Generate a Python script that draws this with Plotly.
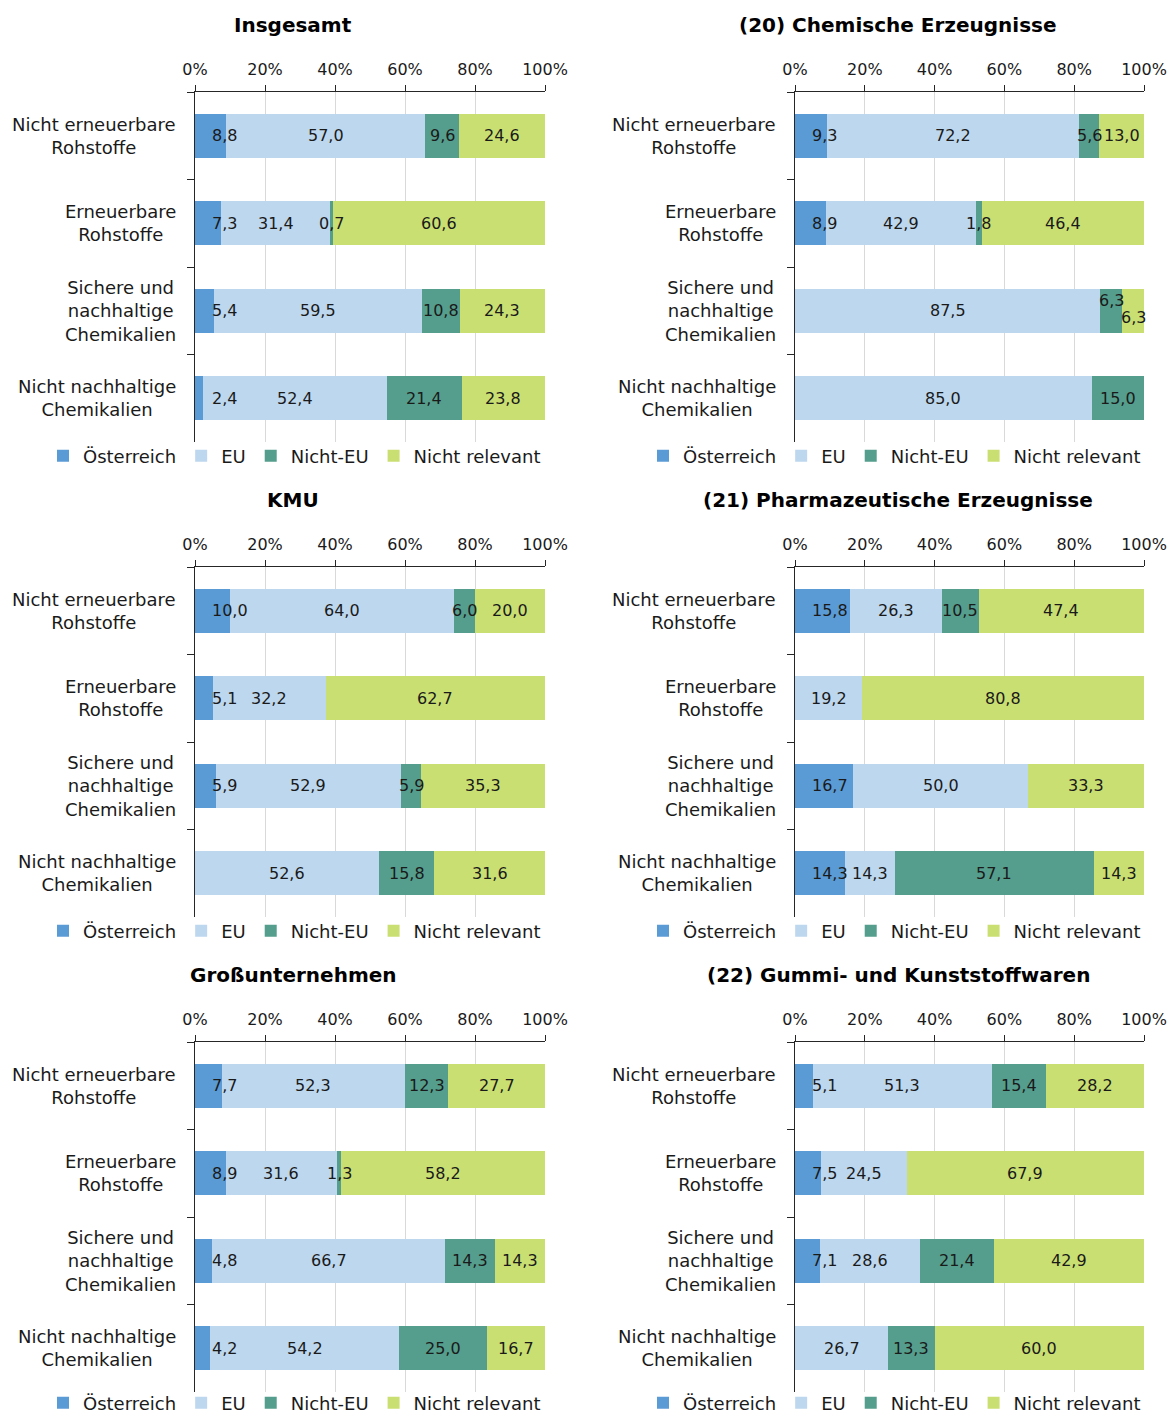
import plotly.graph_objects as go

# ---------------- data ----------------
categories = [
    "Nicht erneuerbare<br>Rohstoffe",
    "Erneuerbare<br>Rohstoffe",
    "Sichere und<br>nachhaltige<br>Chemikalien",
    "Nicht nachhaltige<br>Chemikalien",
]
series = ["Österreich", "EU", "Nicht-EU", "Nicht relevant"]
tick_values = [0, 20, 40, 60, 80, 100]
tick_labels = ["0%", "20%", "40%", "60%", "80%", "100%"]

panel_titles = [
    "Insgesamt",
    "(20) Chemische Erzeugnisse",
    "KMU",
    "(21) Pharmazeutische Erzeugnisse",
    "Großunternehmen",
    "(22) Gummi- und Kunststoffwaren",
]

insgesamt = {
    "Österreich": [8.8, 7.3, 5.4, 2.4],
    "EU": [57.0, 31.4, 59.5, 52.4],
    "Nicht-EU": [9.6, 0.7, 10.8, 21.4],
    "Nicht relevant": [24.6, 60.6, 24.3, 23.8],
}
chemie = {
    "Österreich": [9.3, 8.9, 0.0, 0.0],
    "EU": [72.2, 42.9, 87.5, 85.0],
    "Nicht-EU": [5.6, 1.8, 6.3, 15.0],
    "Nicht relevant": [13.0, 46.4, 6.3, 0.0],
}
kmu = {
    "Österreich": [10.0, 5.1, 5.9, 0.0],
    "EU": [64.0, 32.2, 52.9, 52.6],
    "Nicht-EU": [6.0, 0.0, 5.9, 15.8],
    "Nicht relevant": [20.0, 62.7, 35.3, 31.6],
}
pharma = {
    "Österreich": [15.8, 0.0, 16.7, 14.3],
    "EU": [26.3, 19.2, 50.0, 14.3],
    "Nicht-EU": [10.5, 0.0, 0.0, 57.1],
    "Nicht relevant": [47.4, 80.8, 33.3, 14.3],
}
gross = {
    "Österreich": [7.7, 8.9, 4.8, 4.2],
    "EU": [52.3, 31.6, 66.7, 54.2],
    "Nicht-EU": [12.3, 1.3, 14.3, 25.0],
    "Nicht relevant": [27.7, 58.2, 14.3, 16.7],
}
gummi = {
    "Österreich": [5.1, 7.5, 7.1, 0.0],
    "EU": [51.3, 24.5, 28.6, 26.7],
    "Nicht-EU": [15.4, 0.0, 21.4, 13.3],
    "Nicht relevant": [28.2, 67.9, 42.9, 60.0],
}
panels = [insgesamt, chemie, kmu, pharma, gross, gummi]

# ---------------- styling ----------------
colors = {
    "Österreich": "#5B9BD5",
    "EU": "#BDD7EE",
    "Nicht-EU": "#559E8D",
    "Nicht relevant": "#CADF72",
}
FONT = "DejaVu Sans"
TXT = "#1a1a1a"
AX = "#262626"
W, H = 1170, 1415

col_x = [(195, 545), (795, 1144)]
row_y = [(92, 442), (567, 917), (1042, 1392)]
title_x = [293, 898]
title_y = [25, 500, 975]
legend_x = [43, 643]
legend_y = [456, 931, 1403]

# manual nudges of overlapping labels (panel, category index, series) -> yshift px
label_nudge = {(1, 2, "Nicht-EU"): 10, (1, 2, "Nicht relevant"): -7}


def fmt(v):
    return f"{v:.1f}".replace(".", ",")


fig = go.Figure()
annotations = []
layout_axes = {}

for i, data in enumerate(panels):
    n = "" if i == 0 else str(i + 1)
    col, row = i % 2, i // 2
    x0, x1 = col_x[col]
    y0, y1 = row_y[row]
    xdom = [x0 / W, x1 / W]
    ydom = [1 - y1 / H, 1 - y0 / H]
    leg = "legend" + n

    for s in series:
        fig.add_trace(go.Bar(
            y=categories, x=data[s], orientation="h", name=s,
            marker=dict(color=colors[s], line=dict(width=0)),
            xaxis="x" + n, yaxis="y" + n, legend=leg,
            hovertemplate="%{y}: %{x:.1f}%<extra>" + s + "</extra>",
        ))

    layout_axes["xaxis" + n] = dict(
        domain=xdom, anchor="y" + n, range=[0, 100], side="top",
        tickvals=tick_values, ticktext=tick_labels,
        ticks="outside", ticklen=6, tickcolor=AX, tickwidth=1,
        ticklabelstandoff=4,
        showline=True, linecolor=AX, linewidth=1,
        showgrid=True, gridcolor="#D9D9D9", gridwidth=1, zeroline=False,
        tickfont=dict(family=FONT, size=16, color=TXT), fixedrange=True,
        automargin=False,
    )
    layout_axes["yaxis" + n] = dict(
        domain=ydom, anchor="x" + n, type="category",
        categoryorder="array", categoryarray=categories, autorange="reversed",
        showticklabels=False, ticks="outside", tickson="boundaries",
        ticklen=7, tickcolor=AX, tickwidth=1,
        showline=True, linecolor=AX, linewidth=1, showgrid=False,
        zeroline=False, fixedrange=True, automargin=False,
    )
    layout_axes[leg] = dict(
        orientation="h", x=legend_x[col] / W, y=1 - legend_y[row] / H,
        xanchor="left", yanchor="middle", bgcolor="rgba(0,0,0,0)",
        font=dict(family=FONT, size=18, color=TXT), traceorder="normal",
        itemclick=False, itemdoubleclick=False,
    )

    # panel title
    annotations.append(dict(
        text="<b>" + panel_titles[i] + "</b>", xref="paper", yref="paper",
        x=title_x[col] / W, y=1 - title_y[row] / H, xanchor="center", yanchor="middle",
        showarrow=False, font=dict(family=FONT, size=20, color="#000000"),
    ))

    # category labels
    for c in categories:
        annotations.append(dict(
            text=c, xref="x" + n + " domain", yref="y" + n, x=0, y=c,
            xanchor="right", yanchor="middle", xshift=-17, align="center",
            showarrow=False, font=dict(family=FONT, size=18, color=TXT),
        ))

    # data labels
    for k, c in enumerate(categories):
        start = 0.0
        for s in series:
            v = data[s][k]
            if v > 0:
                if s == "Österreich":
                    ann = dict(x=start, xanchor="left", xshift=15)
                else:
                    ann = dict(x=start + v / 2, xanchor="center")
                ann.update(dict(
                    text=fmt(v), xref="x" + n, yref="y" + n, y=c,
                    yanchor="middle", yshift=label_nudge.get((i, k, s), 0),
                    showarrow=False, font=dict(family=FONT, size=16, color=TXT),
                ))
                annotations.append(ann)
            start += v

fig.update_layout(
    width=W, height=H, autosize=False,
    margin=dict(l=0, r=0, t=0, b=0, pad=0, autoexpand=False),
    barmode="stack", bargap=0.5,
    paper_bgcolor="white", plot_bgcolor="white",
    font=dict(family=FONT, color=TXT),
    annotations=annotations,
    **layout_axes,
)

fig.write_html(
    "out.html",
    config={"displayModeBar": False},
    post_script="document.body.style.margin='0';document.body.style.overflow='hidden';",
)
